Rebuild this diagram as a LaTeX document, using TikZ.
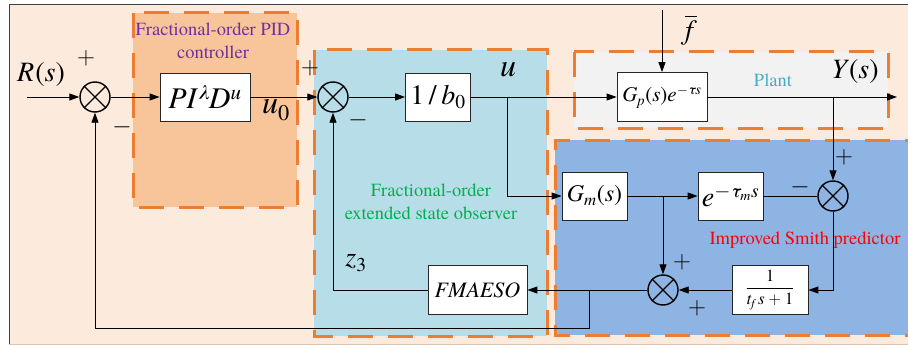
\documentclass[tikz,border=0pt]{standalone}
\usepackage{amsmath}
\usepackage{fontspec}
\setmainfont{texgyretermes}[Extension=.otf,UprightFont=*-regular,ItalicFont=*-italic,BoldFont=*-bold,BoldItalicFont=*-bolditalic]
\usetikzlibrary{arrows.meta}
\definecolor{bgpeach}{RGB}{252,234,220}
\definecolor{pidfill}{RGB}{248,196,153}
\definecolor{esofill}{RGB}{183,221,232}
\definecolor{plantfill}{RGB}{242,242,242}
\definecolor{smithfill}{RGB}{142,180,227}
\definecolor{odash}{RGB}{237,125,49}
\definecolor{pidtxt}{RGB}{112,48,160}
\definecolor{esotxt}{RGB}{0,176,80}
\definecolor{planttxt}{RGB}{75,172,198}
\definecolor{smithtxt}{RGB}{255,0,0}
\definecolor{framebot}{RGB}{214,196,178}
\newcommand{\fs}[1]{\fontsize{#1}{#1}\selectfont}
\begin{document}
\begin{tikzpicture}[x=1pt,y=-1pt,
  region/.style={draw=odash,line width=3pt,dash pattern=on 25pt off 15pt},
  blk/.style={draw=black!85,fill=white,line width=0.8pt,inner sep=0pt},
  sumj/.style={circle,draw=black,line width=1.4pt,minimum size=30pt,inner sep=0pt},
  sig/.style={line width=0.9pt,-{Triangle[length=10pt,width=7pt]}},
  wire/.style={line width=0.9pt},
  sgn/.style={font=\fs{23},inner sep=0pt},
  lbl/.style={font=\fs{18.5},inner sep=0pt,align=center},
  mlab/.style={font=\fs{28},inner sep=0pt}]
\useasboundingbox (0,0) rectangle (908,345);
\begin{scope}
\clip (0,0) rectangle (908,345);
\fill[bgpeach] (9,4) rectangle (925,344);
\draw[line width=0.8pt,black!75] (925,4) -- (9,4) -- (9,344);
\draw[line width=1pt,framebot] (9,344.5) -- (925,344.5);
\fill[smithfill] (555,140) rectangle (930,335);
\draw[region] (930,140) -- (555,140) -- (555,335) -- (930,335);
\end{scope}
\path[fill=pidfill,region] (133,13) rectangle (297,207);
\path[fill=esofill,region] (314,50) rectangle (547,336);
\path[fill=plantfill,region] (574,52) rectangle (888,128);

% region labels
\node[lbl,text=pidtxt] (tpid) at (213,41) {Fractional-order PID\\[4pt]controller};
\node[lbl,text=esotxt] (teso) at (431,202) {Fractional-order\\[4pt]extended state observer};
\node[lbl,text=planttxt] (tplant) at (773,80) {Plant};
\node[lbl,text=smithtxt] (tsmith) at (805,240) {Improved Smith predictor};

% junctions
\node[sumj] (s1) at (95,97) {};
\node[sumj] (s2) at (333,97) {};
\node[sumj] (s3) at (833,196) {};
\node[sumj] (s4) at (663,290) {};
\foreach \s in {s1,s2,s3,s4}{
  \draw[line width=1.4pt] (\s.45) -- (\s.225) (\s.135) -- (\s.315);
}

% blocks
\node[blk,minimum width=90pt,minimum height=48pt,font=\fs{30}] (pid) at (205,97)
  {\textit{PI}$^{\textit{λ}}$\kern-1pt\textit{D}$^{\textit{u}}$};
\node[blk,minimum width=65pt,minimum height=48pt,font=\fs{28}] (b0) at (438,97)
  {1\,/\,\textit{b}$_{\text{0}}$};
\node[blk,minimum width=90pt,minimum height=49pt,font=\fs{21}] (gp) at (662,97)
  {\textit{G}$_{\textit{p}}$(\textit{s})\textit{e}$^{-\textit{τs}}$};
\node[blk,minimum width=65pt,minimum height=48pt,font=\fs{24}] (gm) at (594.5,196)
  {\textit{G}$_{\textit{m}}$(\textit{s})};
\node[blk,minimum width=65pt,minimum height=48pt,font=\fs{28}] (etau) at (730.5,196)
  {\textit{e}$^{-\textit{τ}_{\textit{m}}\textit{s}}$};
\node[blk,minimum width=76pt,minimum height=49pt,font=\fs{17}] (tf) at (770,290)
  {$\dfrac{\text{1}}{\textit{t}_{\textit{f}}\,\textit{s}+\text{1}}$};
\node[blk,minimum width=99pt,minimum height=49pt,font=\fs{22}] (fm) at (477.5,290)
  {\textit{FMAESO}};

% coordinates
\coordinate (rin) at (27,97);
\coordinate (fin) at (662,10);
\coordinate (yout) at (897,97);
\coordinate (bu) at (507,97);
\coordinate (by) at (833,97);
\coordinate (bm) at (663,196);
\coordinate (bf) at (589,290);
\coordinate (fbc) at (589,328);

% connectors
\draw[sig] (rin) -- (s1);
\draw[sig] (s1) -- (pid);
\draw[sig] (pid) -- (s2);
\draw[sig] (s2) -- (b0);
\draw[sig] (b0) -- (gp);
\draw[sig] (bu) |- (gm);
\draw[sig] (fin) -- (gp);
\draw[sig] (gp) -- (yout);
\draw[sig] (by) -- (s3);
\draw[sig] (gm) -- (etau);
\draw[sig] (bm) -- (s4);
\draw[wire] (etau) -- (s3);
\draw[sig] (s3) |- (tf);
\draw[sig] (tf) -- (s4);
\draw[sig] (s4) -- (fm);
\draw[sig] (bf) -- (fbc) -| (s1);
\draw[sig] (fm) -| (s2);

% signal labels
\node[mlab] (lr) at (41,75) {\textit{R}\kern1pt(\textit{s})};
\node[mlab] (ly) at (855,72) {\textit{Y}(\textit{s})};
\node[mlab,font=\fs{32}] (lu0) at (276,110) {\textit{u}$_{\text{0}}$};
\node[mlab,font=\fs{32}] (lu) at (508,70) {\textit{u}};
\node[mlab] (lz) at (356,263) {\textit{z}$_{\text{3}}$};
\node[mlab] (lf) at (691,30) {$\overline{\text{\textit{f}}}$};

% signs
\node[sgn] (p1) at (86,58) {$+$};
\node[sgn] (m1) at (122,127) {$-$};
\node[sgn] (p2) at (310,68) {$+$};
\node[sgn] (m2) at (358,120) {$-$};
\node[sgn] (p3) at (844,157) {$+$};
\node[sgn] (m3) at (800,187) {$-$};
\node[sgn] (p4) at (682,262) {$+$};
\node[sgn] (p5) at (697,308) {$+$};
\end{tikzpicture}
\end{document}
